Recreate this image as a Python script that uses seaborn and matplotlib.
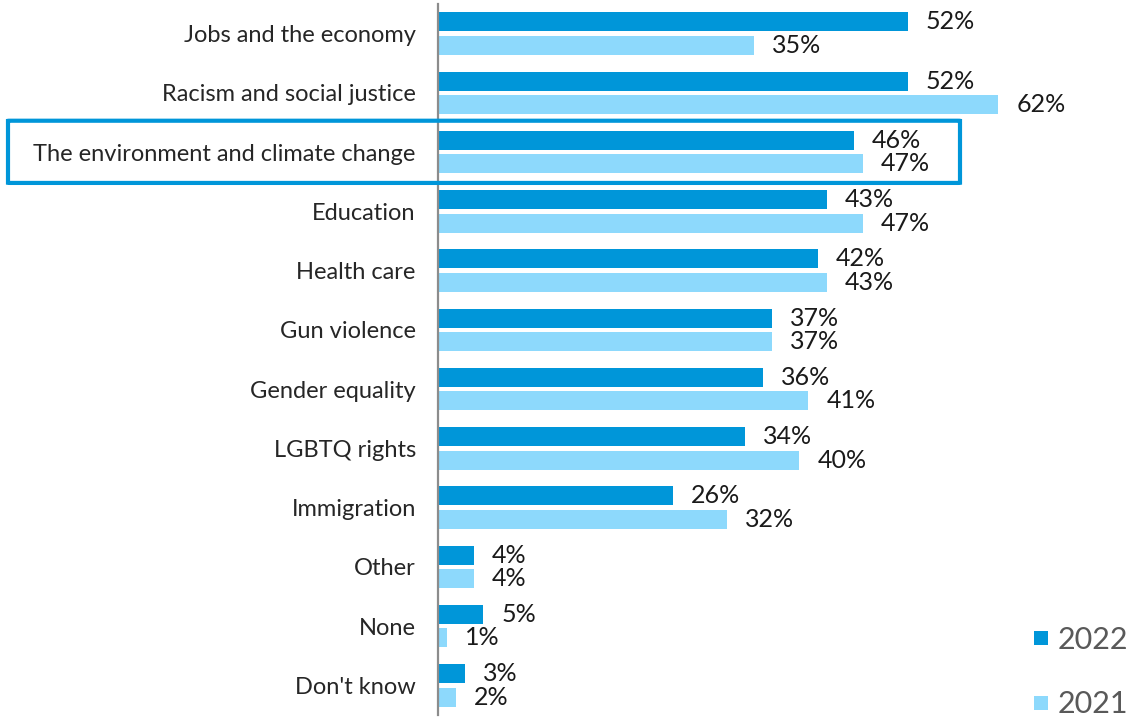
import matplotlib
matplotlib.use("Agg")
import matplotlib.pyplot as plt
from matplotlib.lines import Line2D
from matplotlib.patches import FancyBboxPatch
from matplotlib import transforms
import seaborn as sns
import pandas as pd

categories = [
    "Jobs and the economy",
    "Racism and social justice",
    "The environment and climate change",
    "Education",
    "Health care",
    "Gun violence",
    "Gender equality",
    "LGBTQ rights",
    "Immigration",
    "Other",
    "None",
    "Don't know",
]
values_2022 = [52, 52, 46, 43, 42, 37, 36, 34, 26, 4, 5, 3]
values_2021 = [35, 62, 47, 47, 43, 37, 41, 40, 32, 4, 1, 2]
years = ["2022", "2021"]
highlighted = "The environment and climate change"

colors = {"2022": "#0096D9", "2021": "#8DD9FC"}

df = pd.DataFrame({
    "category": categories * 2,
    "year": ["2022"] * len(categories) + ["2021"] * len(categories),
    "value": values_2022 + values_2021,
})

sns.set_style("white")
plt.rcParams["font.family"] = ["Lato", "DejaVu Sans"]

fig = plt.figure(figsize=(11.32, 7.2), dpi=100)
ax = fig.add_axes([438 / 1132, 5 / 720, (1132 - 438) / 1132, 711 / 720])

sns.barplot(
    data=df, y="category", x="value", hue="year", hue_order=years,
    order=categories, palette=colors, orient="h", width=0.8, gap=0.2,
    saturation=1, linewidth=0, legend=False, ax=ax,
)

for container in ax.containers:
    ax.bar_label(container, fmt="{:.0f}%", padding=13, fontsize=18,
                 color="#1a1a1a")

ax.set_xlim(0, 76.8)
ax.set_ylim(len(categories) - 0.5, -0.5)
ax.set_xlabel("")
ax.set_ylabel("")
ax.set_xticks([])
ax.tick_params(axis="y", length=0, pad=16, labelsize=17, labelcolor="#262626")
for side in ["top", "right", "bottom"]:
    ax.spines[side].set_visible(False)
ax.spines["left"].set_color("#8c8c8c")
ax.spines["left"].set_linewidth(1.6)

# Outline around the highlighted topic
idx = categories.index(highlighted)
trans = transforms.blended_transform_factory(fig.transFigure, ax.transData)
box = FancyBboxPatch(
    (8 / 1132, idx - 0.53), 952 / 1132, 1.05,
    boxstyle="round,pad=0,rounding_size=0.002", transform=trans,
    fill=False, edgecolor="#0096D9", linewidth=3, clip_on=False, zorder=5,
)
ax.add_patch(box)

handles = [
    Line2D([], [], marker="s", linestyle="none", markersize=10,
           markerfacecolor=colors[y], markeredgewidth=0, label=y)
    for y in years
]
leg = ax.legend(
    handles=handles, loc="lower right", bbox_to_anchor=(1.012, -0.022),
    frameon=False, fontsize=22, labelcolor="#595959", handletextpad=0.05,
    labelspacing=1.2, handlelength=1.0, borderaxespad=0.0,
)

fig.savefig("out.png", dpi=100)
